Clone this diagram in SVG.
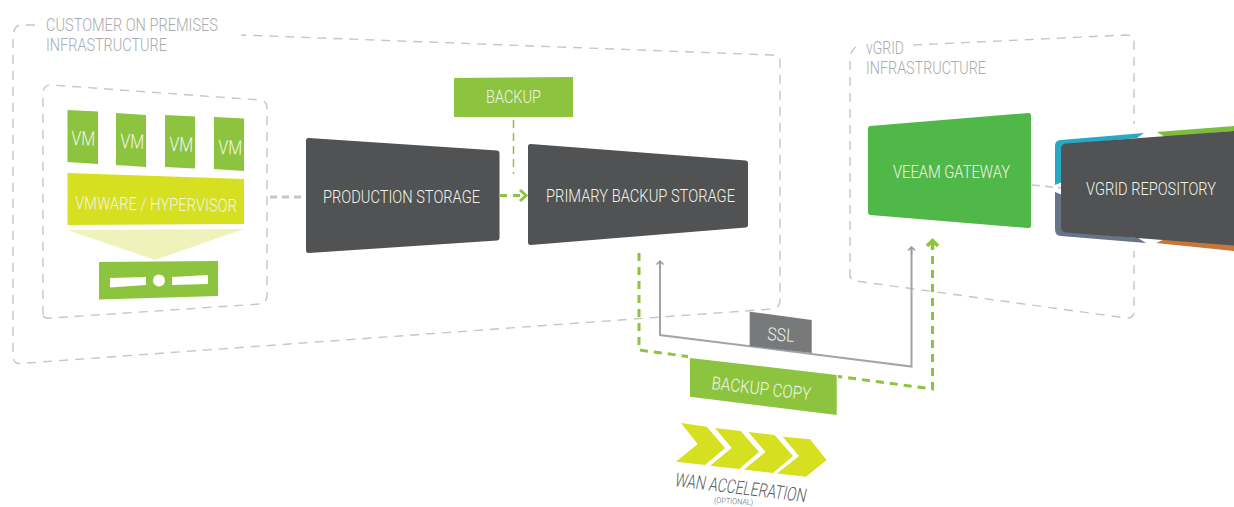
<svg xmlns="http://www.w3.org/2000/svg" width="1234" height="507" viewBox="0 0 1234 507">
<style>
text{font-family:Roboto,"Liberation Sans",sans-serif;font-weight:300;font-size:18px;fill:#f2f4ea}
.t{fill:#a9abad;font-size:18px}
.frame{fill:none;stroke:#c4c6c8;stroke-width:1.4;stroke-dasharray:9 7}
.dark{fill:#515254;stroke:#515254;stroke-width:5;stroke-linejoin:round}
.g{fill:#8cc43f}
.y{fill:#d6df20}
.w{fill:#fff}
.gd{fill:none;stroke:#8cc43f}
.gl{fill:none;stroke:#a2a4a6;stroke-width:2}
</style>
<defs>
<marker id="ga" markerUnits="userSpaceOnUse" markerWidth="10" markerHeight="10" refX="5" refY="1" orient="0"><path d="M1.500 4.500L5 1L8.500 4.500M5 1V9" fill="none" stroke="#9a9c9e" stroke-width="1.500"/></marker>
</defs>
<g id="customer-infrastructure">
<path class="frame" d="M35 25L20 25Q14 26 13 36V355Q13 364 20 363.500L772 309Q780 308 780 300V62Q780 55 773 55L241 35"/>
<text class="t" x="46" y="31" textLength="172" lengthAdjust="spacingAndGlyphs">CUSTOMER ON PREMISES</text>
<text class="t" x="46" y="51" textLength="121" lengthAdjust="spacingAndGlyphs">INFRASTRUCTURE</text>
</g>
<g id="vgrid-infrastructure">
<path class="frame" d="M850 278V58Q851 50 856 47M913 45L1126 35Q1134 35 1134 42V310Q1134 319 1126 318L856 281Q850 280 850 274"/>
<text class="t" x="866" y="54" textLength="38" lengthAdjust="spacingAndGlyphs">vGRID</text>
<text class="t" x="866" y="74" textLength="120" lengthAdjust="spacingAndGlyphs">INFRASTRUCTURE</text>
</g>
<g id="hypervisor-host">
<path class="frame" d="M43 315V94Q43 85 51 85L260 100Q267 101 267 108V295Q267 303 260 304L52 318Q44 319 43 315Z"/>
</g>
<g id="vm-1"><polygon class="g" points="67.500,110 98,111.500 98,164 67.500,162"/><text x="71" y="145" style="font-size:20px" textLength="24" lengthAdjust="spacingAndGlyphs" transform="rotate(2 71 145)">VM</text></g>
<g id="vm-2"><polygon class="g" points="116,113 146,115 146,167 116,165"/><text x="120" y="148" style="font-size:20px" textLength="24" lengthAdjust="spacingAndGlyphs" transform="rotate(2 120 148)">VM</text></g>
<g id="vm-3"><polygon class="g" points="165,115 195,116.500 195,168.500 165,167"/><text x="169" y="151" style="font-size:20px" textLength="24" lengthAdjust="spacingAndGlyphs" transform="rotate(2 169 151)">VM</text></g>
<g id="vm-4"><polygon class="g" points="214,117 244,118.500 244,171 214,169"/><text x="218" y="154" style="font-size:20px" textLength="24" lengthAdjust="spacingAndGlyphs" transform="rotate(2 218 154)">VM</text></g>
<g id="hypervisor"><polygon class="y" points="67.500,173 244,179 244,224 67.500,225"/><text x="75" y="209" textLength="162" lengthAdjust="spacingAndGlyphs" transform="rotate(1 75 209)">VMWARE / HYPERVISOR</text></g>
<g id="server">
<polygon points="67.500,230 244,229 155,260" fill="#eff3bb"/>
<polygon class="g" points="99,262 218,261 218,296 99,299.500"/>
<polygon class="w" points="110,278 146,277 146,285 110,287.500"/>
<circle class="w" cx="159" cy="280.500" r="6"/>
<polygon class="w" points="172,277 208,275 208,284 172,285"/>
</g>
<g id="connectors">
<path d="M270 197H302" fill="none" stroke="#c4c6c8" stroke-width="3" stroke-dasharray="7 5"/>
<path class="gd" d="M513.500 120V174" stroke-width="1.500" stroke-dasharray="8 5"/>
<path class="gd" d="M500 195.500H524" stroke-width="3" stroke-dasharray="7 6"/>
<path class="gd" d="M520 190L526 195.500L520 201" stroke-width="3"/>
<path class="gd" d="M1032 185L1061 188" style="stroke:#c4c6c8" stroke-width="1.500" stroke-dasharray="8 5"/>
<path class="gl" d="M660 261V335L911.500 366.500V247" marker-start="url(#ga)" marker-end="url(#ga)"/>
<path class="gd" d="M639 253V350L932.500 389V246" stroke-width="3" stroke-dasharray="8 6"/>
<path class="gd" d="M927 246L932.500 240.500L938 246M932.500 241V250" stroke-width="3.500"/>
</g>
<g id="production-storage"><polygon class="dark" points="308.500,140.500 497,153 497,238 308.500,250.500"/><text x="323" y="203" textLength="157" lengthAdjust="spacingAndGlyphs">PRODUCTION STORAGE</text></g>
<g id="primary-backup-storage"><polygon class="dark" points="530.500,146.500 745.500,163 745.500,225 530.500,242.500"/><text x="546" y="202" textLength="189" lengthAdjust="spacingAndGlyphs">PRIMARY BACKUP STORAGE</text></g>
<g id="backup"><polygon class="g" points="454,78 573,77 573,117 454,117"/><text x="486" y="103" textLength="55" lengthAdjust="spacingAndGlyphs">BACKUP</text></g>
<g id="veeam-gateway"><polygon points="870.500,128.500 1028.500,115.500 1028.500,225.500 870.500,212.500" fill="#50b848" stroke="#50b848" stroke-width="5" stroke-linejoin="round"/><text x="893" y="178" textLength="117" lengthAdjust="spacingAndGlyphs">VEEAM GATEWAY</text></g>
<g id="vgrid-repository">
<rect class="w" x="1125" y="124" width="20" height="16"/>
<rect class="w" x="1125" y="236" width="20" height="15"/>
<path d="M1055 185V146Q1055 140 1061 140L1144 133L1137 138L1065 145V181Z" fill="#27a9c6"/>
<path d="M1157 132L1234 126V131L1165 137Z" fill="#7cbd3c"/>
<path d="M1055 192V229Q1055 236 1061 236L1146 243L1138 238L1065 231V196Z" fill="#667388"/>
<path d="M1156 243L1165 239L1234 245V251Z" fill="#c8773a"/>
<path d="M1066 143.500L1234 131V245.500L1066 232.500Q1061 232 1061 227V149Q1061 144 1066 143.500Z" fill="#515254"/>
<text x="1086" y="195" textLength="130" lengthAdjust="spacingAndGlyphs">VGRID REPOSITORY</text>
</g>
<g id="ssl"><polygon points="749.700,311.700 811.700,320 811.700,353 749.700,346" fill="#77797b"/><text x="767" y="340" textLength="27" lengthAdjust="spacingAndGlyphs" transform="rotate(4 767 340)">SSL</text></g>
<g id="backup-copy"><polygon class="w" points="688,352 838,372 838,380 688,362"/><polygon class="g" points="690,358 836.700,375 836.700,415 690,396.700"/><text x="711" y="389" textLength="100" lengthAdjust="spacingAndGlyphs" transform="rotate(6.500 711 389)">BACKUP COPY</text></g>
<g id="wan-acceleration">
<g class="y">
<path d="M681 423L706.700 426.700L725 448L705 465L676 461.700L697.700 444Z"/>
<path d="M715 428L740.700 431L759 452L739 469L710 465.700L731.700 448Z"/>
<path d="M748.500 432L774.500 435L793 456L773 473L744 469.500L765.500 452Z"/>
<path d="M782.700 436.700L810 439.300L826.700 460L806 476.700L777 473.500L799 456Z"/>
</g>
<text transform="translate(674 486) rotate(7) skewX(-6)" x="0" y="0" style="fill:#58595b;font-size:19px" textLength="132" lengthAdjust="spacingAndGlyphs">WAN ACCELERATION</text>
<text x="714" y="503" style="fill:#58595b;font-size:8px" textLength="39" lengthAdjust="spacingAndGlyphs" transform="rotate(3 714 503)">(OPTIONAL)</text>
</g>
</svg>
